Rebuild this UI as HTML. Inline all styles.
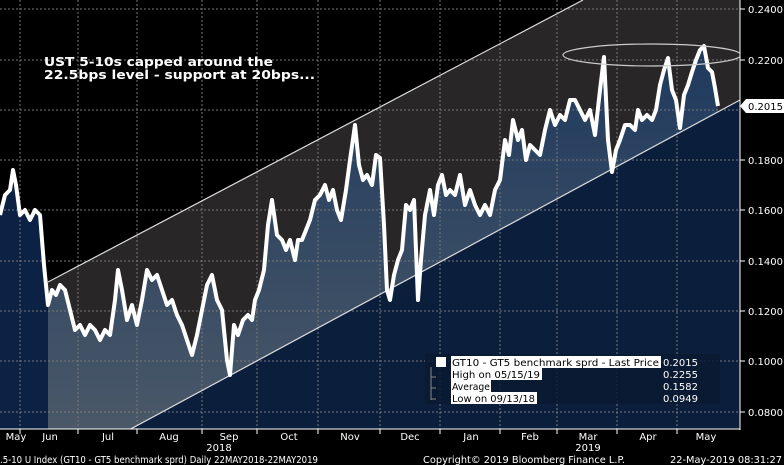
<!DOCTYPE html>
<html><head><meta charset="utf-8"><style>
html,body{margin:0;padding:0;background:#000;}
svg{display:block;font-family:"DejaVu Sans","Liberation Sans",sans-serif;}
</style></head><body>
<svg width="784" height="465" viewBox="0 0 784 465" xmlns="http://www.w3.org/2000/svg">
<defs>
<clipPath id="plot"><rect x="0" y="0" width="740" height="429"/></clipPath>
<clipPath id="chan"><polygon points="48,282 583,0 740,0 740,100 127,431 48,431"/></clipPath>
<linearGradient id="g" x1="0" y1="0" x2="0" y2="1"><stop offset="0" stop-color="#1f3a5e"/><stop offset="1" stop-color="#4a5868"/></linearGradient>
<path id="area" d="M0,215 L5,195 L10,190 L13,170 L16,185 L20,215 L25,210 L30,220 L35,210 L40,215 L44,265 L48,305 L52,290 L56,295 L60,285 L65,290 L70,310 L75,330 L80,325 L85,335 L90,325 L95,330 L100,340 L105,330 L110,335 L115,300 L118,270 L122,290 L127,320 L132,305 L137,325 L142,300 L147,270 L152,280 L157,275 L162,290 L167,305 L172,300 L177,315 L182,325 L187,340 L192,355 L197,335 L202,310 L207,285 L212,275 L217,300 L222,310 L227,360 L230,375 L234,325 L238,335 L243,320 L248,315 L252,320 L255,300 L259,290 L264,270 L268,225 L272,200 L277,235 L282,240 L286,250 L290,240 L295,260 L298,240 L302,240 L306,230 L310,220 L315,200 L320,195 L325,185 L329,200 L333,190 L337,210 L341,220 L346,190 L350,160 L355,125 L359,165 L363,180 L367,175 L372,185 L376,155 L380,158 L384,225 L387,290 L390,300 L394,275 L398,260 L402,250 L406,205 L410,210 L414,200 L418,300 L421,260 L425,215 L430,190 L434,215 L438,185 L442,175 L446,195 L450,190 L455,195 L460,175 L465,205 L470,190 L475,205 L480,215 L485,205 L490,215 L495,190 L500,180 L505,140 L509,155 L513,120 L518,140 L522,130 L526,160 L530,145 L535,150 L540,155 L545,130 L550,110 L555,125 L560,115 L565,120 L570,100 L575,100 L580,110 L585,120 L590,110 L595,135 L600,90 L604,57 L608,140 L612,172 L616,150 L620,140 L625,125 L630,125 L635,130 L638,110 L642,120 L647,115 L652,120 L656,110 L660,85 L664,70 L668,58 L672,90 L676,100 L680,128 L684,95 L688,85 L692,72 L696,60 L700,50 L704,46 L708,68 L712,72 L715,88 L718,106 L718,429 L0,429 Z"/>
</defs>
<rect width="784" height="465" fill="#000"/>
<g clip-path="url(#plot)">
<polygon points="48,282 583,0 740,0 740,100 127,431 48,431" fill="#282626"/>
<use href="#area" fill="#0c2244"/>
<g clip-path="url(#chan)"><use href="#area" fill="url(#g)"/></g>
<polygon points="127,431 740,100 740,429 127,429" fill="#0b1f3d"/>
<g stroke="#777" stroke-width="1" stroke-dasharray="2,2" fill="none">
<line x1="0" y1="9" x2="740" y2="9"/><line x1="0" y1="60" x2="740" y2="60"/><line x1="0" y1="110" x2="740" y2="110"/><line x1="0" y1="160" x2="740" y2="160"/><line x1="0" y1="210" x2="740" y2="210"/><line x1="0" y1="261" x2="740" y2="261"/><line x1="0" y1="311" x2="740" y2="311"/><line x1="0" y1="361" x2="740" y2="361"/><line x1="0" y1="412" x2="740" y2="412"/>
<line x1="20" y1="0" x2="20" y2="429"/><line x1="78" y1="0" x2="78" y2="429"/><line x1="137" y1="0" x2="137" y2="429"/><line x1="202" y1="0" x2="202" y2="429"/><line x1="257" y1="0" x2="257" y2="429"/><line x1="318" y1="0" x2="318" y2="429"/><line x1="380" y1="0" x2="380" y2="429"/><line x1="440" y1="0" x2="440" y2="429"/><line x1="500" y1="0" x2="500" y2="429"/><line x1="557" y1="0" x2="557" y2="429"/><line x1="617" y1="0" x2="617" y2="429"/><line x1="677" y1="0" x2="677" y2="429"/>
</g>
<line x1="48" y1="282" x2="583" y2="0" stroke="#ddd" stroke-width="1.2"/>
<line x1="127" y1="431" x2="740" y2="100" stroke="#ddd" stroke-width="1.2"/>
<path d="M0,215 L5,195 L10,190 L13,170 L16,185 L20,215 L25,210 L30,220 L35,210 L40,215 L44,265 L48,305 L52,290 L56,295 L60,285 L65,290 L70,310 L75,330 L80,325 L85,335 L90,325 L95,330 L100,340 L105,330 L110,335 L115,300 L118,270 L122,290 L127,320 L132,305 L137,325 L142,300 L147,270 L152,280 L157,275 L162,290 L167,305 L172,300 L177,315 L182,325 L187,340 L192,355 L197,335 L202,310 L207,285 L212,275 L217,300 L222,310 L227,360 L230,375 L234,325 L238,335 L243,320 L248,315 L252,320 L255,300 L259,290 L264,270 L268,225 L272,200 L277,235 L282,240 L286,250 L290,240 L295,260 L298,240 L302,240 L306,230 L310,220 L315,200 L320,195 L325,185 L329,200 L333,190 L337,210 L341,220 L346,190 L350,160 L355,125 L359,165 L363,180 L367,175 L372,185 L376,155 L380,158 L384,225 L387,290 L390,300 L394,275 L398,260 L402,250 L406,205 L410,210 L414,200 L418,300 L421,260 L425,215 L430,190 L434,215 L438,185 L442,175 L446,195 L450,190 L455,195 L460,175 L465,205 L470,190 L475,205 L480,215 L485,205 L490,215 L495,190 L500,180 L505,140 L509,155 L513,120 L518,140 L522,130 L526,160 L530,145 L535,150 L540,155 L545,130 L550,110 L555,125 L560,115 L565,120 L570,100 L575,100 L580,110 L585,120 L590,110 L595,135 L600,90 L604,57 L608,140 L612,172 L616,150 L620,140 L625,125 L630,125 L635,130 L638,110 L642,120 L647,115 L652,120 L656,110 L660,85 L664,70 L668,58 L672,90 L676,100 L680,128 L684,95 L688,85 L692,72 L696,60 L700,50 L704,46 L708,68 L712,72 L715,88 L718,106" fill="none" stroke="#fff" stroke-width="4" stroke-linejoin="round"/>
<ellipse cx="652" cy="55" rx="89" ry="11" fill="none" stroke="#ccc" stroke-width="1.2"/>
</g>
<line x1="740" y1="0" x2="740" y2="430" stroke="#fff" stroke-width="1"/>
<line x1="0" y1="429" x2="740" y2="429" stroke="#fff" stroke-width="1"/>
<g stroke="#fff" stroke-width="1">
<line x1="740" y1="9" x2="745" y2="9"/><line x1="740" y1="60" x2="745" y2="60"/><line x1="740" y1="160" x2="745" y2="160"/><line x1="740" y1="210" x2="745" y2="210"/><line x1="740" y1="261" x2="745" y2="261"/><line x1="740" y1="311" x2="745" y2="311"/><line x1="740" y1="361" x2="745" y2="361"/><line x1="740" y1="412" x2="745" y2="412"/>
<line x1="20" y1="429" x2="20" y2="434"/><line x1="78" y1="429" x2="78" y2="434"/><line x1="137" y1="429" x2="137" y2="434"/><line x1="202" y1="429" x2="202" y2="434"/><line x1="257" y1="429" x2="257" y2="434"/><line x1="318" y1="429" x2="318" y2="434"/><line x1="380" y1="429" x2="380" y2="434"/><line x1="440" y1="429" x2="440" y2="434"/><line x1="500" y1="429" x2="500" y2="434"/><line x1="557" y1="429" x2="557" y2="434"/><line x1="617" y1="429" x2="617" y2="434"/><line x1="677" y1="429" x2="677" y2="434"/>
</g>
<g fill="#fff" font-size="10">
<text x="748" y="13">0.2400</text><text x="748" y="64">0.2200</text><text x="748" y="164">0.1800</text><text x="748" y="214">0.1600</text><text x="748" y="265">0.1400</text><text x="748" y="315">0.1200</text><text x="748" y="365">0.1000</text><text x="748" y="416">0.0800</text>
</g>
<polygon points="740,106 746,99 784,99 784,113 746,113" fill="#fff"/>
<text x="748" y="110" font-size="10" fill="#000">0.2015</text>
<g fill="#fff" font-size="10" text-anchor="middle">
<text x="16" y="440">May</text><text x="50" y="440">Jun</text><text x="108" y="440">Jul</text><text x="169" y="440">Aug</text><text x="229" y="440">Sep</text><text x="289" y="440">Oct</text><text x="350" y="440">Nov</text><text x="410" y="440">Dec</text><text x="471" y="440">Jan</text><text x="530" y="440">Feb</text><text x="588" y="440">Mar</text><text x="648" y="440">Apr</text><text x="706" y="440">May</text>
<text x="219" y="451">2018</text><text x="588" y="451">2019</text>
</g>
<g fill="#fff" font-size="9.5">
<text x="0" y="463" textLength="318" lengthAdjust="spacingAndGlyphs">.5-10 U Index (GT10 - GT5 benchmark sprd)  Daily 22MAY2018-22MAY2019</text>
<text x="423" y="463" textLength="202" lengthAdjust="spacingAndGlyphs">Copyright© 2019 Bloomberg Finance L.P.</text>
<text x="670" y="463" textLength="112" lengthAdjust="spacingAndGlyphs">22-May-2019 08:31:27</text>
</g>
<g fill="#fff" font-size="12" font-weight="bold">
<text x="44" y="66" textLength="229" lengthAdjust="spacingAndGlyphs">UST 5-10s capped around the</text>
<text x="44" y="79" textLength="271" lengthAdjust="spacingAndGlyphs">22.5bps level - support at 20bps...</text>
</g>
<rect x="425" y="354" width="295" height="50" fill="#0a1a30" opacity="0.85"/>
<rect x="436" y="357" width="10" height="10" fill="#fff"/>
<g stroke="#888" fill="none" stroke-width="1"><path d="M431,367 V400 M431,377 H436 M431,388 H436 M431,399 H436"/></g>
<g font-size="10">
<rect x="451" y="356" width="210" height="12" fill="#fff"/><text x="452" y="366" fill="#000" textLength="207" lengthAdjust="spacingAndGlyphs">GT10 - GT5 benchmark sprd - Last Price</text>
<rect x="451" y="368" width="91" height="12" fill="#fff"/><text x="452" y="378" fill="#000" textLength="88" lengthAdjust="spacingAndGlyphs">High on 05/15/19</text>
<rect x="451" y="380" width="40" height="12" fill="#fff"/><text x="452" y="390" fill="#000" textLength="38" lengthAdjust="spacingAndGlyphs">Average</text>
<rect x="451" y="392" width="86" height="12" fill="#fff"/><text x="452" y="402" fill="#000" textLength="83" lengthAdjust="spacingAndGlyphs">Low on 09/13/18</text>
<g fill="#fff" text-anchor="end"><text x="698" y="366">0.2015</text><text x="698" y="378">0.2255</text><text x="698" y="390">0.1582</text><text x="698" y="402">0.0949</text></g>
</g>
</svg>
</body></html>
